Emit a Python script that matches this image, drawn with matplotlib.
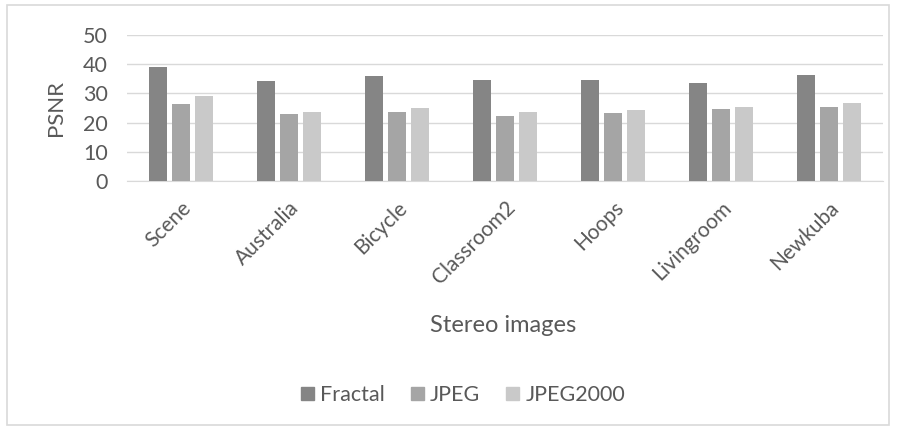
import matplotlib
matplotlib.use("Agg")
import matplotlib.pyplot as plt
import numpy as np
from matplotlib.patches import Rectangle

categories = ["Scene", "Australia", "Bicycle", "Classroom2", "Hoops", "Livingroom", "Newkuba"]
fractal = [39.0, 34.3, 36.0, 34.6, 34.6, 33.5, 36.4]
jpeg = [26.4, 22.9, 23.6, 22.4, 23.3, 24.6, 25.4]
jpeg2000 = [29.1, 23.7, 25.0, 23.6, 24.3, 25.4, 26.8]
series_names = ["Fractal", "JPEG", "JPEG2000"]
colors = ["#858585", "#a5a5a5", "#c9c9c9"]

plt.rcParams['font.family'] = ['Lato', 'DejaVu Sans']
txt = "#595959"

fig = plt.figure(figsize=(8.97, 4.30), dpi=100)
fig.patches.append(Rectangle((7/897, 5/430), 882/897, 420/430, transform=fig.transFigure,
                             fill=False, edgecolor="#d9d9d9", linewidth=1.2))
ax = fig.add_axes([127/897, 1-181/430, 756/897, 146/430])

x = np.arange(len(categories))
w = 0.17
off = 0.215
for i, (vals, name) in enumerate(zip([fractal, jpeg, jpeg2000], series_names)):
    ax.bar(x + (i-1)*off, vals, width=w, color=colors[i], label=name, zorder=3)

ax.set_xlim(-0.5, len(categories)-0.5)
ax.set_ylim(0, 50)
ax.set_yticks(range(0, 51, 10))
ax.yaxis.grid(True, color="#d9d9d9", linewidth=1, zorder=0)
for s in ["top", "right", "left"]:
    ax.spines[s].set_visible(False)
ax.spines["bottom"].set_color("#d9d9d9")
ax.tick_params(axis="both", length=0, colors=txt)
ax.tick_params(axis="y", labelsize=15.5, pad=14)
ax.set_xticks(x)
ax.set_xticklabels(categories, rotation=45, ha="right", rotation_mode="anchor", fontsize=15, color=txt)
ax.tick_params(axis="x", pad=12)
ax.set_ylabel("PSNR", fontsize=16, color=txt, labelpad=12)

fig.text(503/897, 1-325/430, "Stereo images", ha="center", va="center", fontsize=17, color=txt)
handles = [Rectangle((0, 0), 1, 1, color=c) for c in colors]
fig.legend(handles, series_names, loc="center", bbox_to_anchor=(463/897, 1-395/430), ncol=3,
           frameon=False, fontsize=15.5, labelcolor=txt, handlelength=0.6, handleheight=0.6,
           handletextpad=0.3, columnspacing=1.2)

fig.savefig("out.png", dpi=100)
